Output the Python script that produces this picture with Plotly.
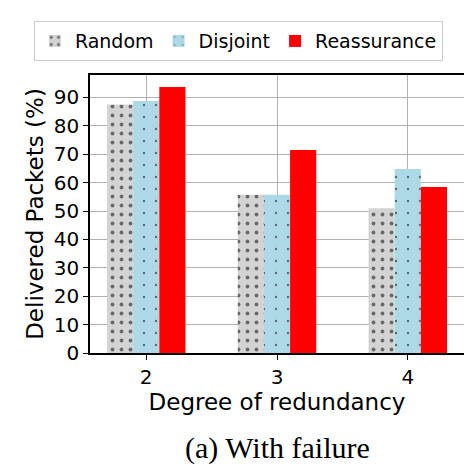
import plotly.graph_objects as go

degrees = [2, 3, 4]
random_vals = [87.5, 55.7, 51.0]
disjoint_vals = [88.7, 55.7, 64.8]
reassurance_vals = [93.7, 71.5, 58.5]

series = [
    ('Random', random_vals, dict(shape='.', bgcolor='#d3d3d3', fgcolor='black',
                                 size=9, solidity=0.14, fillmode='overlay'), '#d3d3d3'),
    ('Disjoint', disjoint_vals, dict(shape='.', bgcolor='#add8e6', fgcolor='black',
                                     size=12, solidity=0.03, fillmode='overlay'), '#add8e6'),
    ('Reassurance', reassurance_vals, None, '#ff0000'),
]

fig = go.Figure()
for name, vals, pattern, color in series:
    marker = dict(color=color, line=dict(width=0))
    if pattern:
        marker['pattern'] = pattern
    fig.add_trace(go.Bar(x=degrees, y=vals, name=name, marker=marker))

axis_font = dict(family='DejaVu Sans', size=20, color='black')

# legend sits left of the plot area so plotly lets it span to the right edge in one row
fig.update_layout(
    width=472, height=470,
    margin=dict(l=82, r=16, t=67, b=125),
    plot_bgcolor='white', paper_bgcolor='white',
    barmode='group', bargap=0.4, bargroupgap=0,
    font=dict(family='DejaVu Sans', size=20, color='black'),
    legend=dict(orientation='h', x=-0.15, xanchor='left', xref='paper',
                y=1.05, yanchor='bottom', yref='paper',
                font=dict(size=19, color='black'),
                bordercolor='#cccccc', borderwidth=1, bgcolor='white',
                itemwidth=30, tracegroupgap=0),
    xaxis=dict(range=[1.57, 4.43], tickvals=degrees, ticktext=[str(d) for d in degrees],
               showline=True, linecolor='black', linewidth=1.5, mirror=True,
               ticks='outside', ticklen=5, tickcolor='black',
               showgrid=True, gridcolor='#b0b0b0', gridwidth=1, zeroline=False,
               tickfont=axis_font, automargin=False,
               title=dict(text='Degree of redundancy', font=dict(size=23), standoff=4)),
    yaxis=dict(range=[0, 97.9], tickvals=list(range(0, 100, 10)),
               showline=True, linecolor='black', linewidth=1.5, mirror=True,
               ticks='outside', ticklen=5, tickcolor='black',
               showgrid=True, gridcolor='#b0b0b0', gridwidth=1, zeroline=False,
               tickfont=axis_font, automargin=False,
               title=dict(text='Delivered Packets (%)', font=dict(size=23), standoff=4)),
)

fig.add_annotation(text='(a) With failure', x=0.5, xref='paper',
                   y=-0.34, yref='paper', yanchor='middle',
                   showarrow=False, font=dict(family='Liberation Serif', size=30, color='black'))

fig.write_html('out.html')
